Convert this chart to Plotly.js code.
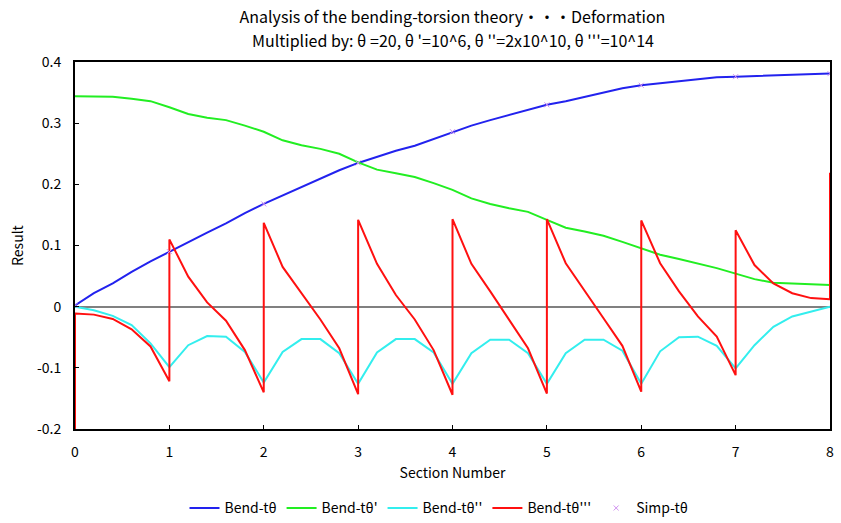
<!DOCTYPE html>
<html>
<head>
<meta charset="utf-8">
<script src="https://cdn.plot.ly/plotly-3.0.1.min.js"></script>
<style>html,body{margin:0;padding:0;background:#fff;}#chart{width:841px;height:523px;}</style>
</head>
<body>
<div id="chart"></div>
<script>
// Section positions (shared by Bend-tθ, Bend-tθ', Bend-tθ'')
const sectionX = [0,0.2,0.4,0.6,0.8,1,1.2,1.4,1.6,1.8,2,2.2,2.4,2.6,2.8,3,3.2,3.4,3.6,3.8,4,4.2,4.4,4.6,4.8,5,5.2,5.4,5.6,5.8,6,6.2,6.4,6.6,6.8,7,7.2,7.4,7.6,7.8,8];

const bendT = [0.002,0.022,0.038,0.057,0.074,0.090,0.106,0.121,0.136,0.153,0.168,0.182,0.195,0.209,0.223,0.235,0.245,0.255,0.263,0.274,0.286,0.296,0.305,0.313,0.322,0.330,0.336,0.343,0.350,0.357,0.362,0.365,0.368,0.372,0.375,0.376,0.377,0.379,0.379,0.380,0.381];

const bendT1 = [0.344,0.344,0.343,0.340,0.336,0.326,0.315,0.309,0.305,0.296,0.286,0.272,0.264,0.258,0.250,0.236,0.224,0.218,0.212,0.202,0.191,0.177,0.168,0.161,0.155,0.142,0.129,0.123,0.116,0.106,0.095,0.085,0.078,0.071,0.063,0.054,0.045,0.039,0.038,0.037,0.0355];

const bendT2 = [0,-0.006,-0.015,-0.030,-0.060,-0.099,-0.063,-0.048,-0.049,-0.074,-0.124,-0.074,-0.053,-0.053,-0.076,-0.126,-0.075,-0.053,-0.053,-0.075,-0.126,-0.076,-0.054,-0.054,-0.076,-0.126,-0.076,-0.054,-0.054,-0.072,-0.126,-0.073,-0.050,-0.049,-0.064,-0.101,-0.063,-0.033,-0.016,-0.008,0];

// Bend-tθ''' has jumps at each section boundary (repeated x)
const bendT3X = [0,0,0.2,0.4,0.6,0.8,1,1,1.2,1.4,1.6,1.8,2,2,2.2,2.4,2.6,2.8,3,3,3.2,3.4,3.6,3.8,4,4,4.2,4.4,4.6,4.8,5,5,5.2,5.4,5.6,5.8,6,6,6.2,6.4,6.6,6.8,7,7,7.2,7.4,7.6,7.8,8,8];
const bendT3 = [-0.2,-0.011,-0.013,-0.020,-0.037,-0.065,-0.122,0.110,0.049,0.007,-0.023,-0.071,-0.140,0.137,0.065,0.022,-0.021,-0.068,-0.143,0.142,0.070,0.019,-0.021,-0.071,-0.144,0.143,0.070,0.025,-0.022,-0.068,-0.142,0.143,0.071,0.025,-0.019,-0.064,-0.139,0.141,0.071,0.025,-0.016,-0.049,-0.112,0.125,0.068,0.038,0.022,0.014,0.012,0.219];

const simpX = [0,1,2,3,4,5,6,7,8];
const simpT = [0.002,0.090,0.168,0.235,0.286,0.330,0.362,0.376,0.381];

const seriesNames = ["Bend-tθ","Bend-tθ'","Bend-tθ''","Bend-tθ'''","Simp-tθ"];
const titleLine1 = "Analysis of the bending-torsion theory・・・Deformation";
const titleLine2 = "Multiplied by: θ =20, θ '=10^6, θ ''=2x10^10, θ '''=10^14";
const xTicks = [0,1,2,3,4,5,6,7,8];
const yTicks = [-0.2,-0.1,0,0.1,0.2,0.3,0.4];
const yTickText = ["-0.2","-0.1","0","0.1","0.2","0.3","0.4"];

const FONT = "'Noto Sans CJK JP', 'Noto Sans', sans-serif";

const traces = [
  {x: sectionX, y: bendT, name: seriesNames[0], mode: "lines", line: {color: "#2222ee", width: 2}},
  {x: sectionX, y: bendT1, name: seriesNames[1], mode: "lines", line: {color: "#22ee22", width: 2}},
  {x: sectionX, y: bendT2, name: seriesNames[2], mode: "lines", line: {color: "#33eeee", width: 2}},
  {x: bendT3X, y: bendT3, name: seriesNames[3], mode: "lines", line: {color: "#ff1010", width: 2}},
  {x: simpX, y: simpT, name: seriesNames[4], mode: "markers", marker: {symbol: "x-thin", size: 5, color: "#d090f0", line: {color: "#d090f0", width: 1}}}
];

const layout = {
  width: 841, height: 523,
  margin: {l: 75, r: 11, t: 62, b: 94, autoexpand: false},
  paper_bgcolor: "#ffffff", plot_bgcolor: "#ffffff",
  font: {family: FONT, size: 14, color: "#000"},
  title: {
    text: titleLine1,
    font: {family: FONT, size: 16, color: "#000"},
    x: 0.538, xref: "container", xanchor: "center",
    y: 1 - 17/523, yref: "container", yanchor: "middle",
    automargin: false
  },
  annotations: [{
    text: titleLine2, showarrow: false,
    xref: "paper", x: 0.5, xanchor: "center",
    yref: "paper", y: (429 - 40) / 367, yanchor: "middle",
    font: {family: FONT, size: 16, color: "#000"}
  }],
  xaxis: {
    range: [0, 8], tickvals: xTicks, ticktext: xTicks.map(String),
    showgrid: false, zeroline: false, showline: true, mirror: true,
    linecolor: "#000", linewidth: 2, ticks: "inside", ticklen: 4, tickcolor: "#000",
    tickfont: {family: FONT, size: 14}, ticklabelstandoff: 9,
    title: {text: "Section Number", font: {family: FONT, size: 14}, standoff: 8}
  },
  yaxis: {
    range: [-0.2, 0.4], tickvals: yTicks, ticktext: yTickText,
    showgrid: false, zeroline: true, zerolinecolor: "#808080", zerolinewidth: 2,
    showline: true, mirror: true, linecolor: "#000", linewidth: 2,
    ticks: "inside", ticklen: 4, tickcolor: "#000",
    tickfont: {family: FONT, size: 14}, ticklabelstandoff: 9,
    title: {text: "Result", font: {family: FONT, size: 14}, standoff: 10}
  },
  showlegend: true,
  legend: {
    orientation: "h", x: 0.522, xref: "container", xanchor: "center",
    y: 0.028, yref: "container", yanchor: "middle",
    font: {family: FONT, size: 14}, itemwidth: 30, bgcolor: "rgba(0,0,0,0)"
  }
};

Plotly.newPlot("chart", traces, layout, {displayModeBar: false, staticPlot: true});
</script>
</body>
</html>
